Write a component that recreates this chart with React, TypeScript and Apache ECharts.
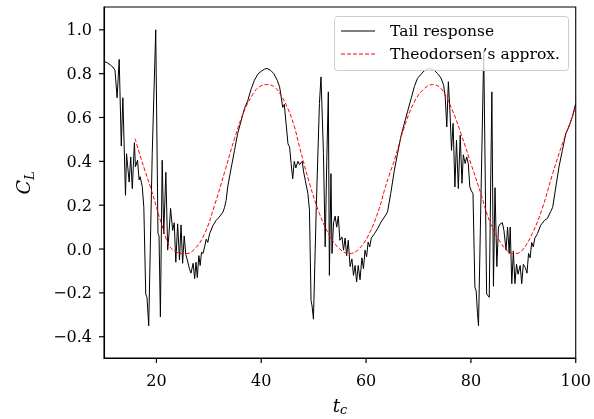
import React, { useEffect, useRef } from 'react';
import * as echarts from 'echarts';

const tailT = [
  10.0, 10.6, 11.2, 11.7, 12.1, 12.5, 12.9, 13.3, 13.6, 14.1, 14.3, 14.8, 15.1, 15.4, 15.8, 16.0, 16.4, 16.7, 16.9, 17.3,
  17.6, 17.96, 18.2, 18.53, 19.2, 19.87, 20.3, 20.5, 20.76, 21.1, 21.4, 21.8, 22.15, 22.4, 22.7, 23.1, 23.4, 23.7, 24.05, 24.4,
  24.7, 25.0, 25.3, 25.6, 25.9, 26.3, 26.6, 27.0, 27.3, 27.55, 27.8, 28.1, 28.35, 28.6, 28.9, 29.2, 29.5, 29.8, 30.15, 30.8,
  31.4, 32.0, 32.7, 33.0, 33.3, 33.6, 34.3, 34.9, 35.5, 36.2, 36.8, 37.45, 38.1, 38.7, 39.35, 40.0, 40.6, 41.1, 41.8, 42.4,
  43.05, 43.5, 43.8, 44.1, 44.4, 44.8, 45.1, 45.4, 45.7, 46.0, 46.3, 46.6, 47.0, 47.3, 47.8, 48.1, 48.4, 48.9, 49.2, 49.5,
  49.7, 49.96, 50.5, 51.1, 51.4, 51.87, 52.2, 52.5, 52.8, 53.0, 53.3, 53.5, 53.8, 54.1, 54.4, 54.7, 55.0, 55.4, 55.7, 56.0,
  56.3, 56.6, 56.95, 57.3, 57.6, 57.9, 58.2, 58.5, 58.85, 59.2, 59.5, 59.8, 60.1, 60.4, 60.7, 61.0, 61.6, 62.2, 62.85, 63.5,
  64.1, 64.7, 65.4, 66.0, 66.7, 67.3, 67.9, 68.6, 69.2, 69.8, 70.5, 71.1, 72.06, 72.9, 73.65, 74.3, 74.8, 75.1, 75.4, 75.7,
  76.0, 76.3, 76.6, 76.95, 77.25, 77.6, 77.96, 78.3, 78.55, 78.9, 79.2, 79.5, 79.8, 80.1, 80.4, 80.76, 81.0, 81.26, 81.45, 82.45,
  83.0, 83.5, 84.0, 84.3, 84.6, 84.95, 85.26, 85.6, 86.0, 86.3, 86.7, 87.0, 87.3, 87.5, 87.8, 88.1, 88.4, 88.7, 89.0, 89.4,
  89.7, 90.0, 90.4, 90.7, 91.0, 91.3, 91.6, 91.9, 92.2, 92.7, 93.3, 94.0, 94.6, 95.2, 95.6, 96.2, 96.8, 97.45, 98.1, 98.7,
  99.35, 100.0,
];
const tailCL = [
  0.855, 0.85, 0.84, 0.83, 0.815, 0.69, 0.865, 0.47, 0.69, 0.245, 0.435, 0.305, 0.42, 0.275, 0.485, 0.375, 0.405, 0.315, 0.33, 0.285,
  0.19, -0.205, -0.22, -0.35, 0.435, 1.0, 0.07, 0.06, -0.31, 0.405, 0.07, 0.35, -0.005, 0.07, 0.185, 0.085, 0.12, -0.06, 0.115, -0.05,
  0.11, -0.065, 0.06, -0.025, -0.05, -0.09, -0.11, -0.065, -0.135, -0.06, -0.13, -0.03, -0.075, -0.015, -0.02, 0.01, 0.045, 0.03, 0.07, 0.108,
  0.131, 0.146, 0.169, 0.19, 0.222, 0.283, 0.374, 0.45, 0.527, 0.588, 0.641, 0.679, 0.732, 0.77, 0.798, 0.811, 0.82, 0.824, 0.815, 0.8,
  0.77, 0.74, 0.694, 0.646, 0.66, 0.557, 0.48, 0.466, 0.39, 0.32, 0.4, 0.37, 0.4, 0.385, 0.4, 0.35, 0.314, 0.253, 0.177, -0.234,
  -0.26, -0.32, 0.19, 0.664, 0.785, 0.435, 0.01, 0.4, 0.717, -0.12, 0.344, -0.02, 0.12, 0.15, 0.1, 0.15, 0.04, 0.055, -0.005, 0.05,
  -0.03, 0.04, -0.08, -0.045, -0.12, -0.075, -0.15, -0.075, -0.14, -0.04, -0.09, -0.005, -0.035, 0.032, 0.01, 0.05, 0.07, 0.093, 0.123, 0.146,
  0.17, 0.253, 0.36, 0.435, 0.519, 0.573, 0.626, 0.687, 0.74, 0.778, 0.798, 0.813, 0.824, 0.818, 0.8, 0.78, 0.747, 0.694, 0.557, 0.763,
  0.63, 0.45, 0.573, 0.283, 0.496, 0.276, 0.519, 0.3, 0.43, 0.39, 0.42, 0.39, 0.283, 0.265, 0.253, -0.174, -0.19, -0.295, -0.35, 0.9,
  -0.205, -0.22, 0.717, -0.17, 0.28, -0.08, 0.1, 0.115, 0.12, 0.085, -0.005, 0.1, -0.02, 0.1, -0.158, -0.01, -0.158, -0.07, -0.115, -0.075,
  -0.158, -0.07, -0.085, -0.11, -0.02, -0.04, 0.03, 0.01, 0.05, 0.07, 0.108, 0.13, 0.14, 0.17, 0.19, 0.283, 0.374, 0.45, 0.527, 0.557,
  0.603, 0.664,
];

const theoT = [
  15.93, 17.1, 19.05, 20.95, 22.4, 23.8, 25.6, 27.3, 29.2, 31.1, 33.0, 34.9, 36.8, 38.7, 40.0, 41.26, 42.5, 43.8, 45.07, 46.3,
  47.3, 49.2, 51.1, 53.0, 54.9, 56.8, 58.7, 60.6, 62.5, 63.5, 64.4, 65.4, 67.3, 69.2, 71.1, 72.7, 74.3, 76.2, 78.1, 80.0,
  81.9, 83.5, 85.4, 87.3, 88.6, 89.8, 91.7, 93.6, 95.5, 97.45, 100.0,
];
const theoCL = [
  0.504, 0.41, 0.268, 0.116, 0.017, -0.014, -0.021, 0.0, 0.07, 0.2, 0.35, 0.504, 0.633, 0.717, 0.745, 0.75, 0.74, 0.7, 0.641, 0.56,
  0.466, 0.3, 0.162, 0.063, 0.002, -0.021, 0.002, 0.07, 0.184, 0.268, 0.336, 0.405, 0.557, 0.671, 0.732, 0.75, 0.732, 0.648, 0.527, 0.39,
  0.253, 0.131, 0.04, -0.014, -0.02, -0.006, 0.07, 0.184, 0.336, 0.48, 0.643,
];

const xTicks = [20, 40, 60, 80, 100];
const yTicks = [-0.4, -0.2, 0, 0.2, 0.4, 0.6, 0.8, 1.0];
const seriesNames = ['Tail response', 'Theodorsen\u2019s approx.'];

const X_MIN = 10;
const X_MAX = 100;
const Y_MIN = -0.497;
const Y_MAX = 1.104;
const FONT = 'DejaVu Serif';
const TICK_LEN = 5;

export default function App() {
  const ref = useRef<HTMLDivElement>(null);
  useEffect(() => {
    const chart = echarts.init(ref.current as HTMLDivElement, null, { renderer: 'svg' });
    chart.setOption({
      animation: false,
      grid: {
        left: 104, right: 17, top: 7, bottom: 61,
        show: true, borderColor: '#000', borderWidth: 1.1, backgroundColor: 'transparent',
      },
      xAxis: {
        type: 'value', min: X_MIN, max: X_MAX,
        axisLine: { show: true, onZero: false, lineStyle: { color: '#000', width: 1.1 } },
        splitLine: { show: false },
        axisTick: { show: false },
        axisLabel: { customValues: xTicks, margin: 14, color: '#000', fontFamily: FONT, fontSize: 16 },
      },
      yAxis: {
        type: 'value', min: Y_MIN, max: Y_MAX,
        axisLine: { show: true, onZero: false, lineStyle: { color: '#000', width: 1.1 } },
        splitLine: { show: false },
        axisTick: { show: false },
        axisLabel: {
          customValues: yTicks, margin: 12, color: '#000', fontFamily: FONT, fontSize: 16,
          formatter: (v: number) => (v < -1e-9 ? '\u2212' : '') + Math.abs(v).toFixed(1),
        },
      },
      series: [
        {
          name: seriesNames[0], type: 'line', symbol: 'none',
          data: tailT.map((t, i) => [t, tailCL[i]]),
          lineStyle: { color: '#000', width: 1 },
          z: 2,
        },
        {
          name: seriesNames[1], type: 'line', symbol: 'none', smooth: 0.4,
          data: theoT.map((t, i) => [t, theoCL[i]]),
          lineStyle: { color: '#ff0000', width: 1, type: [4, 2] },
          z: 3,
        },
      ],
    });

    const tickEls: any[] = [];
    xTicks.forEach((v) => {
      const p = chart.convertToPixel({ gridIndex: 0 }, [v, Y_MIN]) as number[];
      tickEls.push({
        type: 'line', z: 50, silent: true,
        shape: { x1: p[0], y1: p[1], x2: p[0], y2: p[1] + TICK_LEN },
        style: { stroke: '#000', lineWidth: 1.2 },
      });
    });
    yTicks.forEach((v) => {
      const p = chart.convertToPixel({ gridIndex: 0 }, [X_MIN, v]) as number[];
      tickEls.push({
        type: 'line', z: 50, silent: true,
        shape: { x1: p[0] - TICK_LEN, y1: p[1], x2: p[0], y2: p[1] },
        style: { stroke: '#000', lineWidth: 1.2 },
      });
    });

    chart.setOption({
      graphic: [
        ...tickEls,
        {
          type: 'rect', z: 100,
          shape: { x: 334.5, y: 16.5, width: 234, height: 54, r: 3 },
          style: { fill: 'rgba(255,255,255,0.8)', stroke: '#cccccc', lineWidth: 1 },
        },
        {
          type: 'line', z: 101,
          shape: { x1: 341, y1: 31, x2: 375, y2: 31 },
          style: { stroke: '#000', lineWidth: 1 },
        },
        {
          type: 'line', z: 101,
          shape: { x1: 341, y1: 54, x2: 375, y2: 54 },
          style: { stroke: '#ff0000', lineWidth: 1, lineDash: [4, 2] },
        },
        {
          type: 'text', z: 101, x: 390, y: 31,
          style: { text: seriesNames[0], fill: '#000', font: '15.5px "DejaVu Serif"', textAlign: 'left', textVerticalAlign: 'middle' },
        },
        {
          type: 'text', z: 101, x: 390, y: 54,
          style: { text: seriesNames[1], fill: '#000', font: '15.5px "DejaVu Serif"', textAlign: 'left', textVerticalAlign: 'middle' },
        },
        {
          type: 'text', z: 101, x: 340, y: 405,
          style: { text: 't', fill: '#000', font: 'italic 18px "DejaVu Serif"', textAlign: 'right', textVerticalAlign: 'middle' },
        },
        {
          type: 'text', z: 101, x: 340, y: 409,
          style: { text: 'c', fill: '#000', font: 'italic 13px "DejaVu Serif"', textAlign: 'left', textVerticalAlign: 'middle' },
        },
        {
          type: 'group', x: 23, y: 183, rotation: Math.PI / 2,
          children: [
            {
              type: 'text', x: 3, y: 0,
              style: { text: 'C', fill: '#000', font: 'italic 19px "DejaVu Serif"', textAlign: 'right', textVerticalAlign: 'middle' },
            },
            {
              type: 'text', x: 3, y: 6,
              style: { text: 'L', fill: '#000', font: 'italic 13px "DejaVu Serif"', textAlign: 'left', textVerticalAlign: 'middle' },
            },
          ],
        },
      ],
    });
    return () => chart.dispose();
  }, []);
  return <div ref={ref} style={{ position: 'fixed', left: 0, top: 0, width: 594, height: 419 }} />;
}
